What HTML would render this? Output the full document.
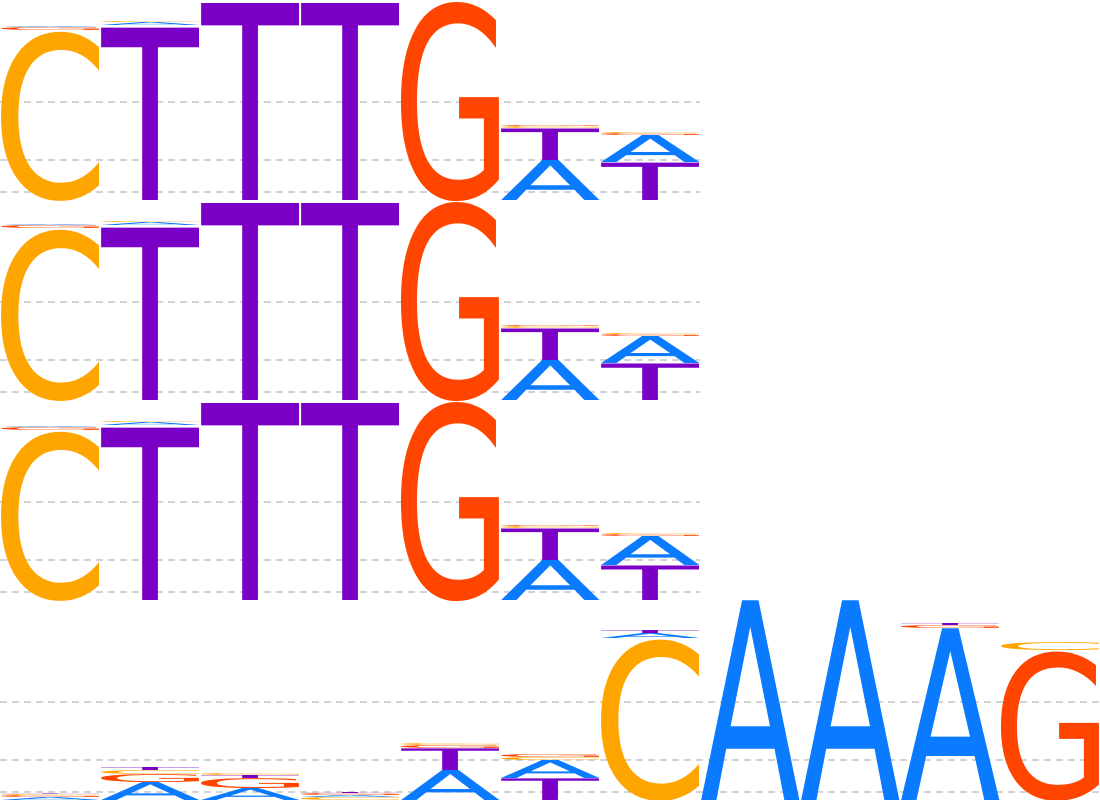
<!DOCTYPE html>
<html><head><meta charset="utf-8">
<style>
html,body{margin:0;padding:0;background:#fff;overflow:hidden;}
svg{display:block;}
</style></head>
<body>
<svg id="chart" width="1100" height="800" viewBox="0 0 1100 800" xmlns="http://www.w3.org/2000/svg">
<g id="grid"></g>
<g id="letters"></g>
</svg>
<script>
// letter order per position: A, C, G, T (heights; full row = 2)
const letters = ["A","C","G","T"];
const row1 = [[0.01,1.70,0.03,0.0],[0.03,0.01,0.0,1.75],[0,0,0,2.0],[0,0,0,2.0],[0,0,2.0,0],[0.40,0.02,0.01,0.32],[0.27,0.01,0.02,0.38]];
const row2 = [[0.01,1.72,0.03,0.0],[0.03,0.01,0.0,1.75],[0,0,0,2.0],[0,0,0,2.0],[0,0,2.0,0],[0.40,0.02,0.01,0.32],[0.27,0.01,0.02,0.37]];
const row3 = [[0.01,1.70,0.03,0.0],[0.03,0.01,0.0,1.75],[0,0,0,2.0],[0,0,0,2.0],[0,0,2.0,0],[0.40,0.02,0.01,0.32],[0.29,0.01,0.02,0.35]];
const row4 = [[0.03,0.01,0.02,0.005],[0.18,0.04,0.08,0.03],[0.12,0.02,0.10,0.03],[0.02,0.03,0.02,0.01],[0.30,0.02,0.03,0.22],[0.18,0.03,0.03,0.22],[0.05,1.62,0,0.03],[2.0,0,0,0],[2.0,0,0,0],[1.72,0,0.03,0.02],[0,0.08,1.50,0]];
const rows = [row1,row2,row3,row4];
const rowWidths = [7,7,7,11];
const gridLevels = [0.08,0.4,0.98];
const colors = {A:"#0a7bff",C:"#ffa500",G:"#ff4500",T:"#7a00c8"};
const ROW_H = 200, COL_W = 100, UNIT = 100;
const NS = "http://www.w3.org/2000/svg";
const grid = document.getElementById("grid");
const lg = document.getElementById("letters");
const ctx = document.createElement("canvas").getContext("2d");
ctx.font = "100px 'DejaVu Sans'";
const metrics = {};
letters.forEach(L => { const m = ctx.measureText(L); metrics[L] = {l:m.actualBoundingBoxLeft, r:m.actualBoundingBoxRight, a:m.actualBoundingBoxAscent, d:m.actualBoundingBoxDescent}; });
function yScale(r, v){ return (r+1)*ROW_H - v*UNIT; }
function xScale(c){ return c*COL_W; }
rows.forEach((row, r) => {
  gridLevels.forEach(g => {
    const l = document.createElementNS(NS,"line");
    
    
    l.setAttribute("x1",0); l.setAttribute("x2",rowWidths[r]*COL_W);
    const y = yScale(r, g);
    l.setAttribute("y1",y); l.setAttribute("y2",y);
    l.setAttribute("stroke","#bbb"); l.setAttribute("stroke-dasharray","7,5"); l.setAttribute("stroke-width","1.2");
    grid.appendChild(l);
  });
  row.forEach((vals, c) => {
    const items = letters.map((L,i)=>({L, v: vals[i]})).filter(o=>o.v>0).sort((a,b)=>b.v-a.v);
    let base = 0;
    items.forEach(o => {
      const m = metrics[o.L];
      const t = document.createElementNS(NS,"text");
      
      
      const h = o.v*UNIT;
      const yb = yScale(r, base);
      const sx = COL_W/(m.l+m.r), sy = h/(m.a+m.d);
      t.setAttribute("transform", `translate(${xScale(c)+m.l*sx},${yb - m.d*sy}) scale(${sx},${sy})`);
      t.setAttribute("x",0); t.setAttribute("y",0);
      t.setAttribute("font-family","DejaVu Sans, sans-serif");
      t.setAttribute("font-size","100");
      t.setAttribute("fill", colors[o.L]);
      t.textContent = o.L;
      lg.appendChild(t);
      base += o.v;
    });
  });
});
</script>
</body></html>
